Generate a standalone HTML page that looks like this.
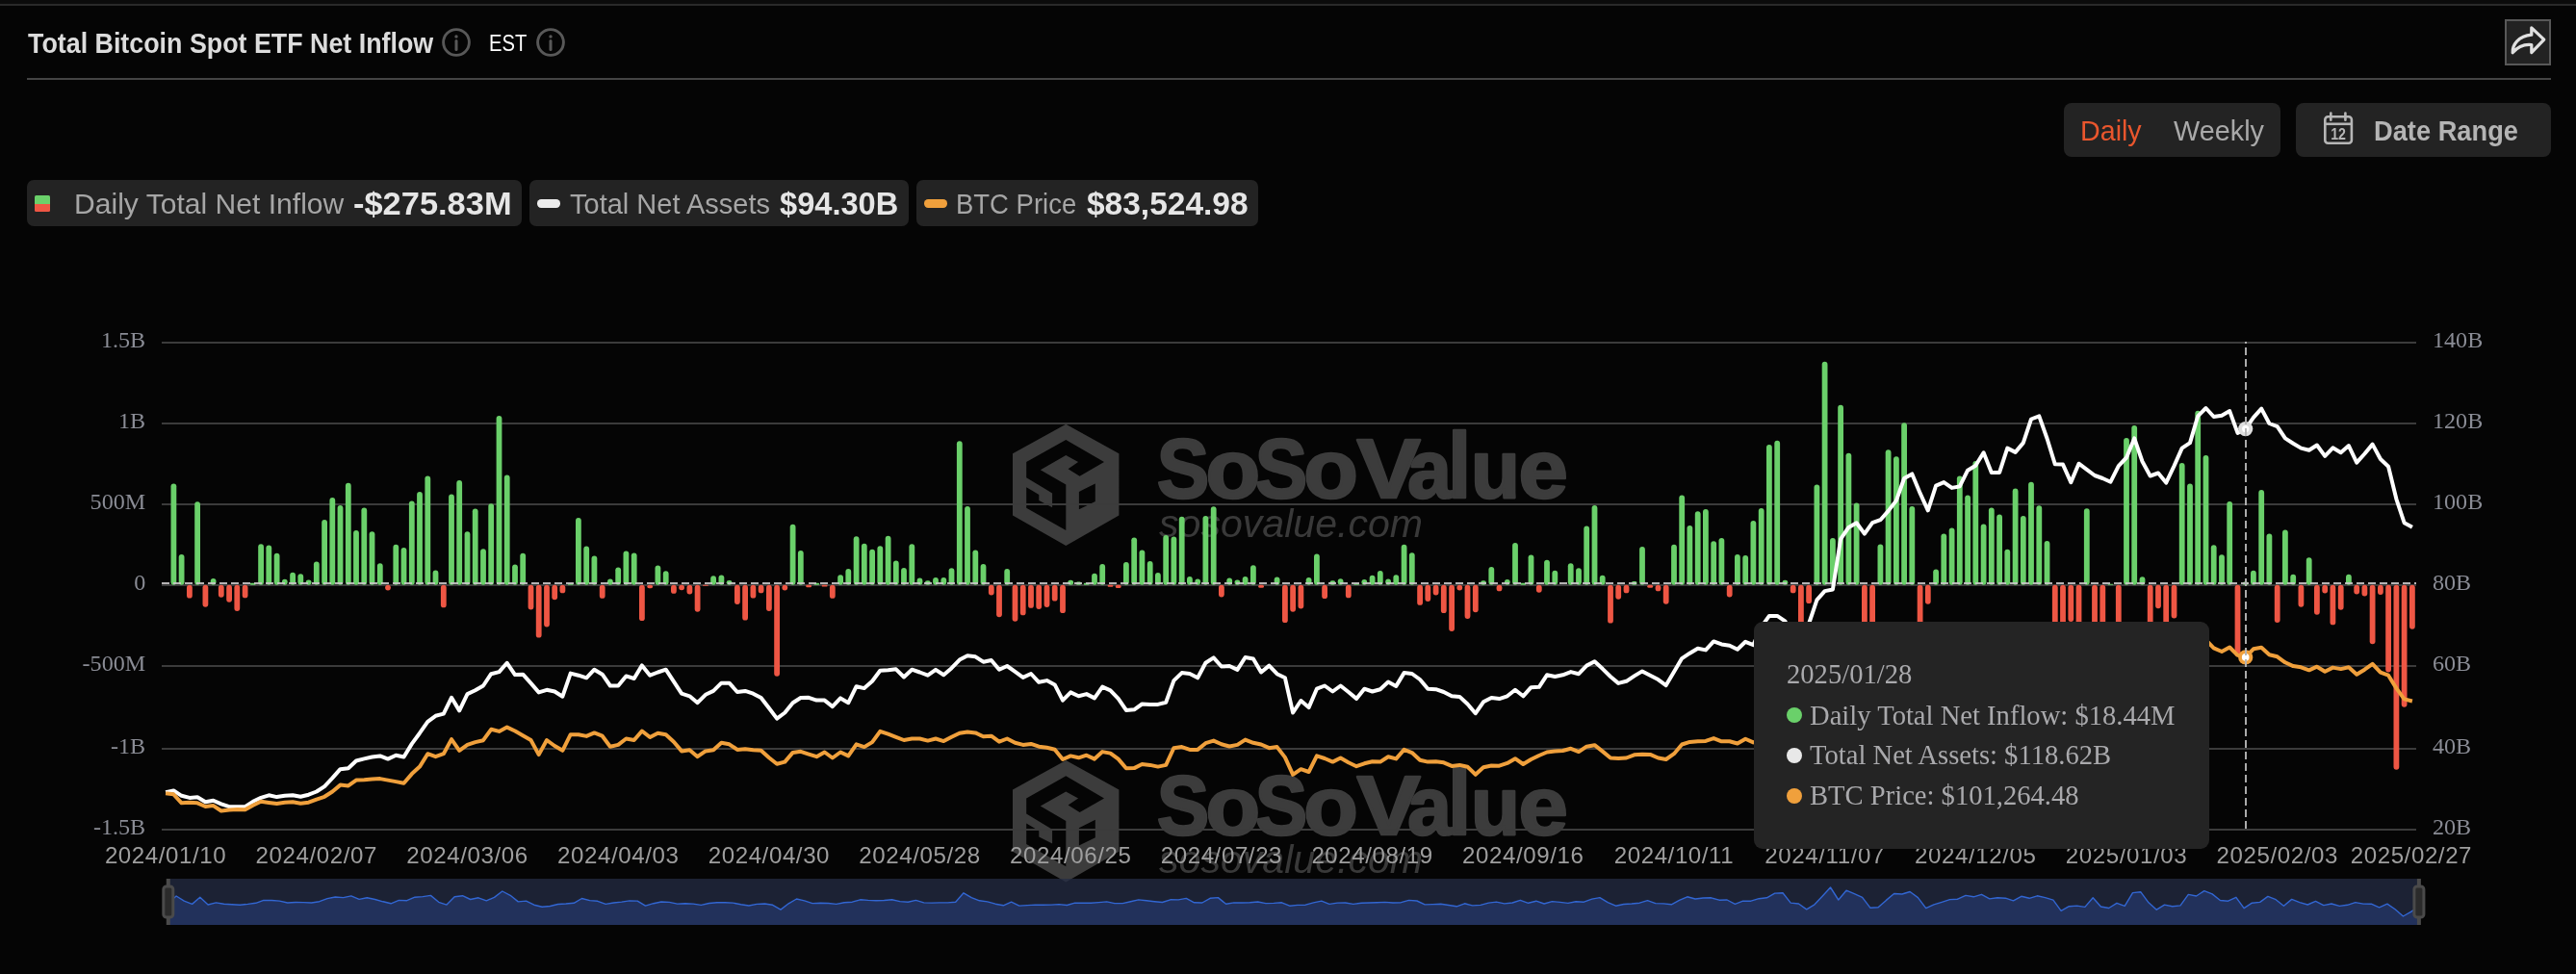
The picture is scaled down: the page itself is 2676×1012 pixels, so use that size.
<!DOCTYPE html><html><head><meta charset="utf-8"><title>Total Bitcoin Spot ETF Net Inflow</title><style>
html,body{margin:0;padding:0;background:#050505;}
body{width:2676px;height:1012px;position:relative;overflow:hidden;font-family:"Liberation Sans",sans-serif;}
.abs{position:absolute;}
.t{position:absolute;white-space:nowrap;display:inline-block;transform-origin:0 0;}
svg.chart{position:absolute;left:0;top:0;}
.ys{font:24.1px "Liberation Serif",serif;fill:#8a8c95;}
.xs{font:24.1px "Liberation Sans",sans-serif;fill:#9e9e9e;letter-spacing:0.58px;}
.wm1{font:bold 86px "Liberation Sans",sans-serif;fill:#3c3c3c;stroke:#3c3c3c;stroke-width:2.6px;stroke-linejoin:round;}
.wm2{font:italic 41px "Liberation Sans",sans-serif;fill:#393939;}
.chip{position:absolute;top:187px;height:48px;background:#232323;border-radius:7px;}
.btn{position:absolute;top:107px;height:56px;background:#232323;border-radius:8px;}
.tt{position:absolute;left:1822px;top:646px;width:473px;height:236px;background:#242424;border-radius:9px;}
.tt span{position:absolute;white-space:nowrap;font:28.6px/1 "Liberation Serif",serif;color:#a9a9ac;}
.tt i{position:absolute;width:16px;height:16px;border-radius:50%;left:34px;}
</style></head><body><div id="root" style="position:absolute;left:0;top:0;width:2676px;height:1012px;will-change:transform">
<div class="abs" style="left:0;top:0;width:2676px;height:4px;background:#0b0b0b"></div>
<div class="abs" style="left:0;top:4px;width:2676px;height:2px;background:#2a2a2a"></div>
<div class="abs" style="left:28px;top:81px;width:2622px;height:2px;background:#444"></div>
<svg class="abs" style="left:458.9px;top:29px" width="30" height="30" viewBox="0 0 30 30"><circle cx="15" cy="15" r="13.4" fill="none" stroke="#585858" stroke-width="2.9"/><line x1="15" y1="13.6" x2="15" y2="22.6" stroke="#585858" stroke-width="3" stroke-linecap="round"/><circle cx="15" cy="9" r="1.7" fill="#585858"/></svg>
<svg class="abs" style="left:557.2px;top:29px" width="30" height="30" viewBox="0 0 30 30"><circle cx="15" cy="15" r="13.4" fill="none" stroke="#585858" stroke-width="2.9"/><line x1="15" y1="13.6" x2="15" y2="22.6" stroke="#585858" stroke-width="3" stroke-linecap="round"/><circle cx="15" cy="9" r="1.7" fill="#585858"/></svg>
<div class="abs" style="left:2602px;top:20px;width:44px;height:44px;background:#222;border:2px solid #585858"></div>
<svg class="abs" style="left:2602px;top:20px" width="48" height="48" viewBox="0 0 48 48"><path d="M27.8 8.8 L40.8 21.2 L27.8 34.6 L27.8 26.6 C20.5 25.8 14.4 27.6 8.2 34.8 C7.6 27 14.2 17.2 27.8 16.2 Z" fill="none" stroke="#e0e0e0" stroke-width="3.2" stroke-linejoin="round"/></svg>
<div class="btn" style="left:2144px;width:225px"></div>
<div class="btn" style="left:2385px;width:265px"></div>
<svg class="abs" style="left:2412px;top:116px" width="36" height="38" viewBox="0 0 36 38"><rect x="3.3" y="5.2" width="27.6" height="27.6" rx="3" fill="none" stroke="#b6b6b6" stroke-width="2.6"/><line x1="3.3" y1="12.8" x2="30.9" y2="12.8" stroke="#b6b6b6" stroke-width="2.6"/><line x1="9.3" y1="1.6" x2="9.3" y2="8.8" stroke="#b6b6b6" stroke-width="2.6" stroke-linecap="round"/><line x1="24.4" y1="1.6" x2="24.4" y2="8.8" stroke="#b6b6b6" stroke-width="2.6" stroke-linecap="round"/><text x="9.2" y="29" style="font:bold 17.4px 'Liberation Sans',sans-serif;fill:#b6b6b6" textLength="15.8" lengthAdjust="spacingAndGlyphs">12</text></svg>
<div class="chip" style="left:28px;width:514px"></div>
<div class="chip" style="left:550px;width:394px"></div>
<div class="chip" style="left:952px;width:355px"></div>
<div class="abs" style="left:36px;top:203px;width:16px;height:8.5px;background:#6ad06a;border-radius:1.5px 1.5px 0 0"></div>
<div class="abs" style="left:36px;top:211.5px;width:16px;height:8px;background:#ee5644;border-radius:0 0 1.5px 1.5px"></div>
<div class="abs" style="left:558px;top:207.3px;width:24px;height:8.4px;background:#ececec;border-radius:4.2px"></div>
<div class="abs" style="left:960px;top:207.3px;width:24px;height:8.4px;background:#f0a03c;border-radius:4.2px"></div>
<svg class="chart" width="2676" height="1012" viewBox="0 0 2676 1012"><path d="M1107.3 440.8 L1162.4 471.3 L1162.4 535.5 L1107.3 567.1 L1052.0 535.5 L1052.0 471.3 Z M1147.0 480.1 L1107.3 457.0 L1066.2 480.1 L1066.2 496.2 L1093.1 512.4 L1093.1 527.3 L1079.3 520.1 L1079.3 513.9 L1066.2 506.2 L1066.2 527.8 L1107.3 550.9 L1107.3 503.6 L1080.8 488.2 L1107.3 473.1 L1120.1 480.1 L1109.6 487.3 L1121.6 494.7 Z M1120.9 510.9 L1137.8 502.4 L1137.8 520.9 L1120.9 529.3 Z" fill="#3c3c3c" fill-rule="evenodd"/><text x="1201.8" y="517.2" class="wm1" style="font-size:87px" textLength="54.5" lengthAdjust="spacingAndGlyphs">S</text><text x="1252.5" y="517.2" class="wm1" style="font-size:85px" textLength="56.6" lengthAdjust="spacingAndGlyphs">o</text><text x="1303.7" y="517.2" class="wm1" style="font-size:87px" textLength="54.5" lengthAdjust="spacingAndGlyphs">S</text><text x="1354.3" y="517.2" class="wm1" style="font-size:85px" textLength="56.6" lengthAdjust="spacingAndGlyphs">o</text><text x="1409.6" y="517.2" class="wm1" style="font-size:87px" textLength="66.2" lengthAdjust="spacingAndGlyphs">V</text><text x="1462.3" y="517.2" class="wm1" style="font-size:85px" textLength="45.6" lengthAdjust="spacingAndGlyphs">a</text><text x="1503.9" y="517.2" class="wm1" style="font-size:97px" textLength="24.3" lengthAdjust="spacingAndGlyphs">l</text><text x="1528.0" y="517.2" class="wm1" style="font-size:85px" textLength="50.9" lengthAdjust="spacingAndGlyphs">u</text><text x="1577.6" y="517.2" class="wm1" style="font-size:85px" textLength="51.3" lengthAdjust="spacingAndGlyphs">e</text><text x="1204" y="558.0" class="wm2" textLength="274" lengthAdjust="spacingAndGlyphs">sosovalue.com</text><path d="M1107.3 790.1 L1162.4 820.6 L1162.4 884.8 L1107.3 916.4 L1052.0 884.8 L1052.0 820.6 Z M1147.0 829.4 L1107.3 806.3 L1066.2 829.4 L1066.2 845.5 L1093.1 861.7 L1093.1 876.6 L1079.3 869.4 L1079.3 863.2 L1066.2 855.5 L1066.2 877.1 L1107.3 900.2 L1107.3 852.9 L1080.8 837.5 L1107.3 822.4 L1120.1 829.4 L1109.6 836.6 L1121.6 844.0 Z M1120.9 860.2 L1137.8 851.7 L1137.8 870.2 L1120.9 878.6 Z" fill="#3c3c3c" fill-rule="evenodd"/><text x="1201.8" y="866.5" class="wm1" style="font-size:87px" textLength="54.5" lengthAdjust="spacingAndGlyphs">S</text><text x="1252.5" y="866.5" class="wm1" style="font-size:85px" textLength="56.6" lengthAdjust="spacingAndGlyphs">o</text><text x="1303.7" y="866.5" class="wm1" style="font-size:87px" textLength="54.5" lengthAdjust="spacingAndGlyphs">S</text><text x="1354.3" y="866.5" class="wm1" style="font-size:85px" textLength="56.6" lengthAdjust="spacingAndGlyphs">o</text><text x="1409.6" y="866.5" class="wm1" style="font-size:87px" textLength="66.2" lengthAdjust="spacingAndGlyphs">V</text><text x="1462.3" y="866.5" class="wm1" style="font-size:85px" textLength="45.6" lengthAdjust="spacingAndGlyphs">a</text><text x="1503.9" y="866.5" class="wm1" style="font-size:97px" textLength="24.3" lengthAdjust="spacingAndGlyphs">l</text><text x="1528.0" y="866.5" class="wm1" style="font-size:85px" textLength="50.9" lengthAdjust="spacingAndGlyphs">u</text><text x="1577.6" y="866.5" class="wm1" style="font-size:85px" textLength="51.3" lengthAdjust="spacingAndGlyphs">e</text><text x="1204" y="907.3" class="wm2" textLength="274" lengthAdjust="spacingAndGlyphs">sosovalue.com</text></svg>
<svg class="chart" width="2676" height="1012" viewBox="0 0 2676 1012">
<rect x="168" y="355" width="2342" height="2" fill="#3b3b3b"/>
<rect x="168" y="439" width="2342" height="2" fill="#3b3b3b"/>
<rect x="168" y="523" width="2342" height="2" fill="#3b3b3b"/>
<rect x="168" y="607" width="2342" height="2" fill="#3b3b3b"/>
<rect x="168" y="691" width="2342" height="2" fill="#3b3b3b"/>
<rect x="168" y="777" width="2342" height="2" fill="#3b3b3b"/>
<rect x="168" y="861" width="2342" height="2" fill="#3b3b3b"/>
<g fill="#6ad06a"><rect x="177.5" y="502.4" width="5.8" height="105.3" rx="2.9"/><rect x="185.7" y="576.1" width="5.8" height="31.6" rx="2.9"/><rect x="202.2" y="521.2" width="5.8" height="86.5" rx="2.9"/><rect x="218.7" y="601.0" width="5.8" height="6.7" rx="2.9"/><rect x="259.9" y="605.7" width="5.8" height="2.0" rx="1.0"/><rect x="268.2" y="565.3" width="5.8" height="42.4" rx="2.9"/><rect x="276.4" y="566.4" width="5.8" height="41.3" rx="2.9"/><rect x="284.7" y="574.7" width="5.8" height="33.0" rx="2.9"/><rect x="292.9" y="601.7" width="5.8" height="6.0" rx="2.9"/><rect x="301.2" y="594.7" width="5.8" height="13.0" rx="2.9"/><rect x="309.4" y="596.3" width="5.8" height="11.4" rx="2.9"/><rect x="317.7" y="602.4" width="5.8" height="5.3" rx="2.6"/><rect x="325.9" y="583.6" width="5.8" height="24.1" rx="2.9"/><rect x="334.2" y="540.1" width="5.8" height="67.6" rx="2.9"/><rect x="342.4" y="517.1" width="5.8" height="90.6" rx="2.9"/><rect x="350.6" y="525.1" width="5.8" height="82.6" rx="2.9"/><rect x="358.9" y="501.8" width="5.8" height="105.9" rx="2.9"/><rect x="367.1" y="550.9" width="5.8" height="56.8" rx="2.9"/><rect x="375.4" y="527.6" width="5.8" height="80.1" rx="2.9"/><rect x="383.6" y="552.3" width="5.8" height="55.4" rx="2.9"/><rect x="391.9" y="585.2" width="5.8" height="22.5" rx="2.9"/><rect x="408.4" y="565.8" width="5.8" height="41.9" rx="2.9"/><rect x="416.6" y="568.9" width="5.8" height="38.8" rx="2.9"/><rect x="424.9" y="520.4" width="5.8" height="87.3" rx="2.9"/><rect x="433.1" y="511.0" width="5.8" height="96.7" rx="2.9"/><rect x="441.4" y="494.6" width="5.8" height="113.1" rx="2.9"/><rect x="449.6" y="592.5" width="5.8" height="15.2" rx="2.9"/><rect x="466.1" y="513.5" width="5.8" height="94.2" rx="2.9"/><rect x="474.3" y="499.1" width="5.8" height="108.6" rx="2.9"/><rect x="482.6" y="552.3" width="5.8" height="55.4" rx="2.9"/><rect x="490.8" y="528.4" width="5.8" height="79.3" rx="2.9"/><rect x="499.1" y="570.3" width="5.8" height="37.4" rx="2.9"/><rect x="507.3" y="523.2" width="5.8" height="84.5" rx="2.9"/><rect x="515.6" y="432.0" width="5.8" height="175.7" rx="2.9"/><rect x="523.8" y="493.5" width="5.8" height="114.2" rx="2.9"/><rect x="532.1" y="586.4" width="5.8" height="21.3" rx="2.9"/><rect x="540.3" y="574.7" width="5.8" height="33.0" rx="2.9"/><rect x="589.8" y="606.2" width="5.8" height="1.5" rx="0.8"/><rect x="598.0" y="537.9" width="5.8" height="69.8" rx="2.9"/><rect x="606.3" y="567.5" width="5.8" height="40.2" rx="2.9"/><rect x="614.5" y="577.5" width="5.8" height="30.2" rx="2.9"/><rect x="631.0" y="601.6" width="5.8" height="6.1" rx="2.9"/><rect x="639.3" y="589.4" width="5.8" height="18.3" rx="2.9"/><rect x="647.5" y="572.5" width="5.8" height="35.2" rx="2.9"/><rect x="655.8" y="574.4" width="5.8" height="33.3" rx="2.9"/><rect x="680.5" y="587.5" width="5.8" height="20.2" rx="2.9"/><rect x="688.8" y="593.3" width="5.8" height="14.4" rx="2.9"/><rect x="738.2" y="598.3" width="5.8" height="9.4" rx="2.9"/><rect x="746.5" y="597.4" width="5.8" height="10.3" rx="2.9"/><rect x="754.7" y="603.0" width="5.8" height="4.7" rx="2.4"/><rect x="820.7" y="544.8" width="5.8" height="62.9" rx="2.9"/><rect x="828.9" y="571.9" width="5.8" height="35.8" rx="2.9"/><rect x="845.4" y="605.7" width="5.8" height="2.0" rx="1.0"/><rect x="870.2" y="597.2" width="5.8" height="10.5" rx="2.9"/><rect x="878.4" y="591.1" width="5.8" height="16.6" rx="2.9"/><rect x="886.7" y="557.3" width="5.8" height="50.4" rx="2.9"/><rect x="894.9" y="564.7" width="5.8" height="43.0" rx="2.9"/><rect x="903.2" y="570.8" width="5.8" height="36.9" rx="2.9"/><rect x="911.4" y="567.2" width="5.8" height="40.5" rx="2.9"/><rect x="919.7" y="556.7" width="5.8" height="51.0" rx="2.9"/><rect x="927.9" y="582.5" width="5.8" height="25.2" rx="2.9"/><rect x="936.1" y="590.0" width="5.8" height="17.7" rx="2.9"/><rect x="944.4" y="565.3" width="5.8" height="42.4" rx="2.9"/><rect x="952.6" y="600.5" width="5.8" height="7.2" rx="2.9"/><rect x="960.9" y="603.3" width="5.8" height="4.4" rx="2.2"/><rect x="969.1" y="599.9" width="5.8" height="7.8" rx="2.9"/><rect x="977.4" y="599.9" width="5.8" height="7.8" rx="2.9"/><rect x="985.6" y="590.2" width="5.8" height="17.5" rx="2.9"/><rect x="993.9" y="458.3" width="5.8" height="149.4" rx="2.9"/><rect x="1002.1" y="525.9" width="5.8" height="81.8" rx="2.9"/><rect x="1010.4" y="571.4" width="5.8" height="36.3" rx="2.9"/><rect x="1018.6" y="586.1" width="5.8" height="21.6" rx="2.9"/><rect x="1043.3" y="591.1" width="5.8" height="16.6" rx="2.9"/><rect x="1109.3" y="602.7" width="5.8" height="5.0" rx="2.5"/><rect x="1117.6" y="604.4" width="5.8" height="3.3" rx="1.6"/><rect x="1125.8" y="605.7" width="5.8" height="2.0" rx="1.0"/><rect x="1134.1" y="595.8" width="5.8" height="11.9" rx="2.9"/><rect x="1142.3" y="586.1" width="5.8" height="21.6" rx="2.9"/><rect x="1167.0" y="583.9" width="5.8" height="23.8" rx="2.9"/><rect x="1175.3" y="558.4" width="5.8" height="49.3" rx="2.9"/><rect x="1183.5" y="571.4" width="5.8" height="36.3" rx="2.9"/><rect x="1191.8" y="583.1" width="5.8" height="24.6" rx="2.9"/><rect x="1200.0" y="595.0" width="5.8" height="12.7" rx="2.9"/><rect x="1208.3" y="556.1" width="5.8" height="51.6" rx="2.9"/><rect x="1216.5" y="557.5" width="5.8" height="50.2" rx="2.9"/><rect x="1224.8" y="536.7" width="5.8" height="71.0" rx="2.9"/><rect x="1233.0" y="599.1" width="5.8" height="8.6" rx="2.9"/><rect x="1241.3" y="601.6" width="5.8" height="6.1" rx="2.9"/><rect x="1249.5" y="535.9" width="5.8" height="71.8" rx="2.9"/><rect x="1257.8" y="526.2" width="5.8" height="81.5" rx="2.9"/><rect x="1274.3" y="600.5" width="5.8" height="7.2" rx="2.9"/><rect x="1282.5" y="602.4" width="5.8" height="5.3" rx="2.6"/><rect x="1290.7" y="599.1" width="5.8" height="8.6" rx="2.9"/><rect x="1299.0" y="587.2" width="5.8" height="20.5" rx="2.9"/><rect x="1323.7" y="599.4" width="5.8" height="8.3" rx="2.9"/><rect x="1356.7" y="599.9" width="5.8" height="7.8" rx="2.9"/><rect x="1365.0" y="575.5" width="5.8" height="32.2" rx="2.9"/><rect x="1381.5" y="603.3" width="5.8" height="4.4" rx="2.2"/><rect x="1389.7" y="601.3" width="5.8" height="6.4" rx="2.9"/><rect x="1406.2" y="606.2" width="5.8" height="1.5" rx="0.8"/><rect x="1414.4" y="601.9" width="5.8" height="5.8" rx="2.9"/><rect x="1422.7" y="597.7" width="5.8" height="10.0" rx="2.9"/><rect x="1430.9" y="593.0" width="5.8" height="14.7" rx="2.9"/><rect x="1439.2" y="601.6" width="5.8" height="6.1" rx="2.9"/><rect x="1447.4" y="597.2" width="5.8" height="10.5" rx="2.9"/><rect x="1455.7" y="565.8" width="5.8" height="41.9" rx="2.9"/><rect x="1463.9" y="574.2" width="5.8" height="33.5" rx="2.9"/><rect x="1538.1" y="603.3" width="5.8" height="4.4" rx="2.2"/><rect x="1546.4" y="588.9" width="5.8" height="18.8" rx="2.9"/><rect x="1562.9" y="601.9" width="5.8" height="5.8" rx="2.9"/><rect x="1571.1" y="563.9" width="5.8" height="43.8" rx="2.9"/><rect x="1579.4" y="605.7" width="5.8" height="2.0" rx="1.0"/><rect x="1587.6" y="576.4" width="5.8" height="31.3" rx="2.9"/><rect x="1604.1" y="581.7" width="5.8" height="26.0" rx="2.9"/><rect x="1612.4" y="592.7" width="5.8" height="15.0" rx="2.9"/><rect x="1628.8" y="585.3" width="5.8" height="22.4" rx="2.9"/><rect x="1637.1" y="590.2" width="5.8" height="17.5" rx="2.9"/><rect x="1645.3" y="546.5" width="5.8" height="61.2" rx="2.9"/><rect x="1653.6" y="525.1" width="5.8" height="82.6" rx="2.9"/><rect x="1661.8" y="597.7" width="5.8" height="10.0" rx="2.9"/><rect x="1694.8" y="604.1" width="5.8" height="3.6" rx="1.8"/><rect x="1703.1" y="568.1" width="5.8" height="39.6" rx="2.9"/><rect x="1736.1" y="565.8" width="5.8" height="41.9" rx="2.9"/><rect x="1744.3" y="514.6" width="5.8" height="93.1" rx="2.9"/><rect x="1752.5" y="545.9" width="5.8" height="61.8" rx="2.9"/><rect x="1760.8" y="531.2" width="5.8" height="76.5" rx="2.9"/><rect x="1769.0" y="529.0" width="5.8" height="78.7" rx="2.9"/><rect x="1777.3" y="562.2" width="5.8" height="45.5" rx="2.9"/><rect x="1785.5" y="558.9" width="5.8" height="48.8" rx="2.9"/><rect x="1802.0" y="576.1" width="5.8" height="31.6" rx="2.9"/><rect x="1810.3" y="576.9" width="5.8" height="30.8" rx="2.9"/><rect x="1818.5" y="540.9" width="5.8" height="66.8" rx="2.9"/><rect x="1826.8" y="527.9" width="5.8" height="79.8" rx="2.9"/><rect x="1835.0" y="461.9" width="5.8" height="145.8" rx="2.9"/><rect x="1843.3" y="457.8" width="5.8" height="149.9" rx="2.9"/><rect x="1851.5" y="602.7" width="5.8" height="5.0" rx="2.5"/><rect x="1884.5" y="503.6" width="5.8" height="104.1" rx="2.9"/><rect x="1892.7" y="375.8" width="5.8" height="231.9" rx="2.9"/><rect x="1901.0" y="559.0" width="5.8" height="48.7" rx="2.9"/><rect x="1909.2" y="420.8" width="5.8" height="186.9" rx="2.9"/><rect x="1917.5" y="470.7" width="5.8" height="137.0" rx="2.9"/><rect x="1925.7" y="522.4" width="5.8" height="85.3" rx="2.9"/><rect x="1950.5" y="565.5" width="5.8" height="42.2" rx="2.9"/><rect x="1958.7" y="467.3" width="5.8" height="140.4" rx="2.9"/><rect x="1967.0" y="474.3" width="5.8" height="133.4" rx="2.9"/><rect x="1975.2" y="439.2" width="5.8" height="168.5" rx="2.9"/><rect x="1983.4" y="526.1" width="5.8" height="81.6" rx="2.9"/><rect x="2008.2" y="591.4" width="5.8" height="16.3" rx="2.9"/><rect x="2016.4" y="554.4" width="5.8" height="53.3" rx="2.9"/><rect x="2024.7" y="548.6" width="5.8" height="59.1" rx="2.9"/><rect x="2032.9" y="494.4" width="5.8" height="113.3" rx="2.9"/><rect x="2041.2" y="514.4" width="5.8" height="93.3" rx="2.9"/><rect x="2049.4" y="479.0" width="5.8" height="128.7" rx="2.9"/><rect x="2057.7" y="544.6" width="5.8" height="63.1" rx="2.9"/><rect x="2065.9" y="527.6" width="5.8" height="80.1" rx="2.9"/><rect x="2074.2" y="534.4" width="5.8" height="73.3" rx="2.9"/><rect x="2082.4" y="570.7" width="5.8" height="37.0" rx="2.9"/><rect x="2090.7" y="507.6" width="5.8" height="100.1" rx="2.9"/><rect x="2098.9" y="535.9" width="5.8" height="71.8" rx="2.9"/><rect x="2107.1" y="500.8" width="5.8" height="106.9" rx="2.9"/><rect x="2115.4" y="525.2" width="5.8" height="82.5" rx="2.9"/><rect x="2123.6" y="562.1" width="5.8" height="45.6" rx="2.9"/><rect x="2164.9" y="528.2" width="5.8" height="79.5" rx="2.9"/><rect x="2189.6" y="606.8" width="5.8" height="0.9" rx="0.5"/><rect x="2206.1" y="455.1" width="5.8" height="152.6" rx="2.9"/><rect x="2214.3" y="441.9" width="5.8" height="165.8" rx="2.9"/><rect x="2222.6" y="599.3" width="5.8" height="8.4" rx="2.9"/><rect x="2263.8" y="481.0" width="5.8" height="126.7" rx="2.9"/><rect x="2272.1" y="502.6" width="5.8" height="105.1" rx="2.9"/><rect x="2280.3" y="426.8" width="5.8" height="180.9" rx="2.9"/><rect x="2288.6" y="473.0" width="5.8" height="134.7" rx="2.9"/><rect x="2296.8" y="566.3" width="5.8" height="41.4" rx="2.9"/><rect x="2305.1" y="576.2" width="5.8" height="31.5" rx="2.9"/><rect x="2313.3" y="521.0" width="5.8" height="86.7" rx="2.9"/><rect x="2329.8" y="604.6" width="5.8" height="3.1" rx="1.6"/><rect x="2338.0" y="592.8" width="5.8" height="14.9" rx="2.9"/><rect x="2346.3" y="509.0" width="5.8" height="98.7" rx="2.9"/><rect x="2354.5" y="554.6" width="5.8" height="53.1" rx="2.9"/><rect x="2371.0" y="550.6" width="5.8" height="57.1" rx="2.9"/><rect x="2379.3" y="596.8" width="5.8" height="10.9" rx="2.9"/><rect x="2395.8" y="579.2" width="5.8" height="28.5" rx="2.9"/><rect x="2437.0" y="596.8" width="5.8" height="10.9" rx="2.9"/></g>
<g fill="#ee5644"><rect x="194.0" y="607.7" width="5.8" height="13.9" rx="2.9"/><rect x="210.5" y="607.7" width="5.8" height="23.0" rx="2.9"/><rect x="226.9" y="607.7" width="5.8" height="13.0" rx="2.9"/><rect x="235.2" y="607.7" width="5.8" height="18.0" rx="2.9"/><rect x="243.4" y="607.7" width="5.8" height="27.2" rx="2.9"/><rect x="251.7" y="607.7" width="5.8" height="13.6" rx="2.9"/><rect x="400.1" y="607.7" width="5.8" height="5.8" rx="2.9"/><rect x="457.9" y="607.7" width="5.8" height="23.6" rx="2.9"/><rect x="548.6" y="607.7" width="5.8" height="25.8" rx="2.9"/><rect x="556.8" y="607.7" width="5.8" height="54.9" rx="2.9"/><rect x="565.1" y="607.7" width="5.8" height="43.8" rx="2.9"/><rect x="573.3" y="607.7" width="5.8" height="15.5" rx="2.9"/><rect x="581.5" y="607.7" width="5.8" height="8.6" rx="2.9"/><rect x="622.8" y="607.7" width="5.8" height="14.1" rx="2.9"/><rect x="664.0" y="607.7" width="5.8" height="37.4" rx="2.9"/><rect x="672.3" y="607.7" width="5.8" height="3.6" rx="1.8"/><rect x="697.0" y="607.7" width="5.8" height="9.1" rx="2.9"/><rect x="705.2" y="607.7" width="5.8" height="5.5" rx="2.8"/><rect x="713.5" y="607.7" width="5.8" height="9.7" rx="2.9"/><rect x="721.7" y="607.7" width="5.8" height="28.0" rx="2.9"/><rect x="730.0" y="607.7" width="5.8" height="1.0" rx="0.5"/><rect x="763.0" y="607.7" width="5.8" height="20.2" rx="2.9"/><rect x="771.2" y="607.7" width="5.8" height="36.9" rx="2.9"/><rect x="779.5" y="607.7" width="5.8" height="13.9" rx="2.9"/><rect x="787.7" y="607.7" width="5.8" height="8.6" rx="2.9"/><rect x="796.0" y="607.7" width="5.8" height="27.2" rx="2.9"/><rect x="804.2" y="607.7" width="5.8" height="95.0" rx="2.9"/><rect x="812.4" y="607.7" width="5.8" height="5.8" rx="2.9"/><rect x="837.2" y="607.7" width="5.8" height="2.6" rx="1.3"/><rect x="853.7" y="607.7" width="5.8" height="1.9" rx="0.9"/><rect x="861.9" y="607.7" width="5.8" height="14.1" rx="2.9"/><rect x="1026.9" y="607.7" width="5.8" height="10.8" rx="2.9"/><rect x="1035.1" y="607.7" width="5.8" height="33.5" rx="2.9"/><rect x="1051.6" y="607.7" width="5.8" height="38.0" rx="2.9"/><rect x="1059.8" y="607.7" width="5.8" height="31.6" rx="2.9"/><rect x="1068.1" y="607.7" width="5.8" height="24.1" rx="2.9"/><rect x="1076.3" y="607.7" width="5.8" height="25.2" rx="2.9"/><rect x="1084.6" y="607.7" width="5.8" height="23.3" rx="2.9"/><rect x="1092.8" y="607.7" width="5.8" height="16.9" rx="2.9"/><rect x="1101.1" y="607.7" width="5.8" height="29.4" rx="2.9"/><rect x="1150.6" y="607.7" width="5.8" height="2.0" rx="1.0"/><rect x="1158.8" y="607.7" width="5.8" height="3.3" rx="1.6"/><rect x="1266.0" y="607.7" width="5.8" height="12.7" rx="2.9"/><rect x="1307.2" y="607.7" width="5.8" height="3.0" rx="1.5"/><rect x="1332.0" y="607.7" width="5.8" height="39.4" rx="2.9"/><rect x="1340.2" y="607.7" width="5.8" height="28.0" rx="2.9"/><rect x="1348.5" y="607.7" width="5.8" height="24.7" rx="2.9"/><rect x="1373.2" y="607.7" width="5.8" height="14.4" rx="2.9"/><rect x="1397.9" y="607.7" width="5.8" height="13.6" rx="2.9"/><rect x="1472.2" y="607.7" width="5.8" height="21.1" rx="2.9"/><rect x="1480.4" y="607.7" width="5.8" height="17.2" rx="2.9"/><rect x="1488.7" y="607.7" width="5.8" height="10.8" rx="2.9"/><rect x="1496.9" y="607.7" width="5.8" height="29.4" rx="2.9"/><rect x="1505.2" y="607.7" width="5.8" height="48.2" rx="2.9"/><rect x="1513.4" y="607.7" width="5.8" height="5.8" rx="2.9"/><rect x="1521.6" y="607.7" width="5.8" height="35.2" rx="2.9"/><rect x="1529.9" y="607.7" width="5.8" height="28.5" rx="2.9"/><rect x="1554.6" y="607.7" width="5.8" height="6.6" rx="2.9"/><rect x="1595.9" y="607.7" width="5.8" height="8.0" rx="2.9"/><rect x="1670.1" y="607.7" width="5.8" height="39.9" rx="2.9"/><rect x="1678.3" y="607.7" width="5.8" height="15.0" rx="2.9"/><rect x="1686.6" y="607.7" width="5.8" height="8.6" rx="2.9"/><rect x="1711.3" y="607.7" width="5.8" height="3.0" rx="1.5"/><rect x="1719.6" y="607.7" width="5.8" height="6.6" rx="2.9"/><rect x="1727.8" y="607.7" width="5.8" height="20.0" rx="2.9"/><rect x="1793.8" y="607.7" width="5.8" height="12.7" rx="2.9"/><rect x="1859.8" y="607.7" width="5.8" height="8.6" rx="2.9"/><rect x="1868.0" y="607.7" width="5.8" height="91.2" rx="2.9"/><rect x="1876.2" y="607.7" width="5.8" height="19.4" rx="2.9"/><rect x="1934.0" y="607.7" width="5.8" height="67.6" rx="2.9"/><rect x="1942.2" y="607.7" width="5.8" height="62.4" rx="2.9"/><rect x="1991.7" y="607.7" width="5.8" height="73.9" rx="2.9"/><rect x="1999.9" y="607.7" width="5.8" height="20.0" rx="2.9"/><rect x="2131.9" y="607.7" width="5.8" height="113.3" rx="2.9"/><rect x="2140.1" y="607.7" width="5.8" height="46.7" rx="2.9"/><rect x="2148.4" y="607.7" width="5.8" height="38.2" rx="2.9"/><rect x="2156.6" y="607.7" width="5.8" height="57.0" rx="2.9"/><rect x="2173.1" y="607.7" width="5.8" height="50.2" rx="2.9"/><rect x="2181.4" y="607.7" width="5.8" height="71.8" rx="2.9"/><rect x="2197.9" y="607.7" width="5.8" height="40.9" rx="2.9"/><rect x="2230.8" y="607.7" width="5.8" height="95.9" rx="2.9"/><rect x="2239.1" y="607.7" width="5.8" height="24.5" rx="2.9"/><rect x="2247.3" y="607.7" width="5.8" height="47.9" rx="2.9"/><rect x="2255.6" y="607.7" width="5.8" height="34.7" rx="2.9"/><rect x="2321.6" y="607.7" width="5.8" height="74.4" rx="2.9"/><rect x="2362.8" y="607.7" width="5.8" height="39.2" rx="2.9"/><rect x="2387.5" y="607.7" width="5.8" height="23.0" rx="2.9"/><rect x="2404.0" y="607.7" width="5.8" height="31.0" rx="2.9"/><rect x="2412.3" y="607.7" width="5.8" height="8.8" rx="2.9"/><rect x="2420.5" y="607.7" width="5.8" height="41.6" rx="2.9"/><rect x="2428.8" y="607.7" width="5.8" height="26.0" rx="2.9"/><rect x="2445.3" y="607.7" width="5.8" height="9.7" rx="2.9"/><rect x="2453.5" y="607.7" width="5.8" height="11.8" rx="2.9"/><rect x="2461.7" y="607.7" width="5.8" height="61.5" rx="2.9"/><rect x="2470.0" y="607.7" width="5.8" height="10.3" rx="2.9"/><rect x="2478.2" y="607.7" width="5.8" height="90.7" rx="2.9"/><rect x="2486.5" y="607.7" width="5.8" height="192.0" rx="2.9"/><rect x="2494.7" y="607.7" width="5.8" height="127.0" rx="2.9"/><rect x="2503.0" y="607.7" width="5.8" height="46.0" rx="2.9"/></g>
<line x1="168" y1="606" x2="2510" y2="606" stroke="#c9c6c8" stroke-opacity="0.9" stroke-width="2" stroke-dasharray="8 4"/>
<polyline points="172.1,823.1 180.4,821.4 188.6,826.8 196.9,828.9 205.1,828.3 213.4,833.2 221.6,831.7 229.8,835.4 238.1,838.2 246.3,838.2 254.6,838.2 262.8,832.8 271.1,828.9 279.3,826.3 287.6,828.1 295.8,826.8 304.1,826.3 312.3,827.8 320.6,825.7 328.8,822.5 337.1,817.1 345.3,808.4 353.5,799.2 361.8,798.3 370.0,790.5 378.3,788.4 386.5,786.5 394.8,785.4 403.0,788.6 411.3,784.7 419.5,786.5 427.8,772.9 436.0,761.7 444.3,749.8 452.5,743.8 460.8,741.6 469.0,724.8 477.2,738.4 485.5,721.1 493.7,717.3 502.0,712.5 510.2,700.2 518.5,698.1 526.7,688.8 535.0,701.1 543.2,700.7 551.5,709.9 559.7,719.4 568.0,716.8 576.2,718.5 584.4,723.7 592.7,699.6 600.9,701.7 609.2,704.3 617.4,695.7 625.7,700.7 633.9,712.5 642.2,712.5 650.4,702.4 658.7,705.0 666.9,691.4 675.2,701.7 683.4,698.5 691.7,695.7 699.9,708.2 708.1,720.7 716.4,723.3 724.6,730.2 732.9,721.8 741.1,717.9 749.4,709.7 757.6,709.7 765.9,719.0 774.1,717.9 782.4,720.7 790.6,725.0 798.9,735.8 807.1,746.6 815.3,740.5 823.6,730.2 831.8,725.0 840.1,724.8 848.3,727.6 856.6,727.6 864.8,734.1 873.1,725.4 881.3,730.2 889.6,713.2 897.8,715.1 906.1,707.8 914.3,696.8 922.6,696.3 930.8,695.3 939.0,703.5 947.3,695.7 955.5,698.5 963.8,701.7 972.0,695.9 980.3,701.3 988.5,694.2 996.8,685.6 1005.0,681.3 1013.3,682.3 1021.5,687.7 1029.8,686.0 1038.0,695.7 1046.2,692.0 1054.5,697.9 1062.7,703.9 1071.0,700.0 1079.2,708.8 1087.5,707.1 1095.7,711.4 1104.0,727.6 1112.2,719.4 1120.5,723.3 1128.7,721.1 1137.0,725.4 1145.2,713.6 1153.5,717.3 1161.7,725.9 1169.9,737.9 1178.2,737.3 1186.4,731.5 1194.7,731.9 1202.9,731.9 1211.2,729.8 1219.4,707.1 1227.7,699.1 1235.9,700.0 1244.2,704.3 1252.4,688.8 1260.7,683.4 1268.9,692.5 1277.2,692.0 1285.4,695.9 1293.6,683.0 1301.9,684.5 1310.1,698.5 1318.4,691.6 1326.6,700.2 1334.9,704.3 1343.1,740.5 1351.4,728.0 1359.6,735.1 1367.9,715.7 1376.1,712.5 1384.4,718.5 1392.6,712.5 1400.8,719.0 1409.1,725.9 1417.3,715.7 1425.6,718.5 1433.8,716.2 1442.1,708.6 1450.3,712.9 1458.6,699.1 1466.8,700.0 1475.1,706.0 1483.3,715.7 1491.6,716.2 1499.8,719.0 1508.1,723.3 1516.3,723.9 1524.5,731.5 1532.8,741.2 1541.0,729.3 1549.3,725.0 1557.5,726.1 1565.8,723.3 1574.0,716.8 1582.3,723.3 1590.5,714.2 1598.8,713.8 1607.0,701.3 1615.3,703.0 1623.5,701.3 1631.8,698.1 1640.0,700.2 1648.2,691.6 1656.5,687.3 1664.7,694.8 1673.0,703.0 1681.2,709.9 1689.5,707.8 1697.7,702.4 1706.0,697.4 1714.2,701.7 1722.5,706.1 1730.7,712.1 1739.0,698.1 1747.2,684.1 1755.4,678.7 1763.7,673.7 1771.9,675.4 1780.2,666.4 1788.4,669.4 1796.7,670.7 1804.9,674.8 1813.2,666.8 1821.4,670.1 1829.7,651.3 1837.9,639.9 1846.2,639.9 1854.4,645.3 1862.7,664.9 1870.9,660.3 1879.1,648.0 1887.4,623.3 1895.6,614.1 1903.9,612.5 1912.1,560.2 1920.4,547.9 1928.6,543.2 1936.9,554.6 1945.1,543.2 1953.4,540.2 1961.6,530.9 1969.9,520.1 1978.1,497.0 1986.3,492.4 1994.6,512.4 2002.8,530.3 2011.1,504.7 2019.3,501.1 2027.6,506.9 2035.8,505.4 2044.1,488.7 2052.3,483.8 2060.6,470.3 2068.8,490.9 2077.1,490.9 2085.3,465.6 2093.6,469.9 2101.8,460.1 2110.0,435.5 2118.3,432.4 2126.5,455.5 2134.8,482.3 2143.0,482.6 2151.3,501.1 2159.5,481.7 2167.8,487.8 2176.0,494.0 2184.3,497.0 2192.5,500.7 2200.8,484.1 2209.0,475.5 2217.2,455.4 2225.5,479.5 2233.7,494.5 2242.0,491.5 2250.2,501.6 2258.5,484.1 2266.7,465.6 2275.0,460.1 2283.2,432.3 2291.5,424.0 2299.7,433.0 2308.0,431.7 2316.2,427.1 2324.5,449.9 2332.7,445.6 2340.9,433.9 2349.2,424.6 2357.4,440.0 2365.7,443.1 2373.9,455.4 2382.2,460.7 2390.4,465.6 2398.7,467.8 2406.9,462.5 2415.2,473.9 2423.4,465.3 2431.7,470.2 2439.9,463.1 2448.2,480.7 2456.4,471.5 2464.6,461.6 2472.9,477.0 2481.1,484.7 2489.4,518.6 2497.6,543.2 2505.9,547.8" fill="none" stroke="#ffffff" stroke-width="4" stroke-linejoin="round" stroke-linecap="butt"/>
<polyline points="172.1,824.2 180.4,825.3 188.6,834.3 196.9,833.7 205.1,834.3 213.4,838.0 221.6,837.1 229.8,842.5 238.1,841.4 246.3,841.0 254.6,841.2 262.8,836.7 271.1,832.8 279.3,833.9 287.6,835.0 295.8,833.7 304.1,833.2 312.3,834.7 320.6,833.7 328.8,830.6 337.1,827.8 345.3,822.5 353.5,815.6 361.8,816.4 370.0,810.6 378.3,810.2 386.5,809.5 394.8,809.1 403.0,810.6 411.3,812.1 419.5,813.8 427.8,804.1 436.0,796.6 444.3,783.2 452.5,786.2 460.8,783.2 469.0,768.1 477.2,779.8 485.5,773.9 493.7,771.1 502.0,769.2 510.2,757.8 518.5,759.9 526.7,755.6 535.0,759.5 543.2,764.2 551.5,769.0 559.7,784.1 568.0,769.0 576.2,775.0 584.4,779.8 592.7,763.2 600.9,763.2 609.2,764.9 617.4,761.4 625.7,764.7 633.9,775.7 642.2,773.9 650.4,767.5 658.7,769.0 666.9,759.5 675.2,766.0 683.4,761.7 691.7,763.2 699.9,770.7 708.1,780.4 716.4,779.3 724.6,786.2 732.9,780.4 741.1,779.3 749.4,771.8 757.6,773.3 765.9,778.9 774.1,778.3 782.4,779.3 790.6,779.8 798.9,787.3 807.1,793.8 815.3,791.6 823.6,781.9 831.8,780.8 840.1,783.6 848.3,786.2 856.6,781.5 864.8,787.5 873.1,781.5 881.3,785.4 889.6,773.3 897.8,776.1 906.1,771.1 914.3,759.9 922.6,762.7 930.8,765.8 939.0,769.0 947.3,767.5 955.5,767.5 963.8,769.6 972.0,767.5 980.3,770.1 988.5,765.8 996.8,761.7 1005.0,760.4 1013.3,761.4 1021.5,765.3 1029.8,764.7 1038.0,770.7 1046.2,767.5 1054.5,771.8 1062.7,773.9 1071.0,772.9 1079.2,775.7 1087.5,776.8 1095.7,778.7 1104.0,789.0 1112.2,785.4 1120.5,787.3 1128.7,784.7 1137.0,788.6 1145.2,781.1 1153.5,782.6 1161.7,788.6 1169.9,798.3 1178.2,798.1 1186.4,794.0 1194.7,794.9 1202.9,796.6 1211.2,794.9 1219.4,777.2 1227.7,776.1 1235.9,778.9 1244.2,778.9 1252.4,772.2 1260.7,769.6 1268.9,773.3 1277.2,775.5 1285.4,773.9 1293.6,768.6 1301.9,771.8 1310.1,773.5 1318.4,777.2 1326.6,776.1 1334.9,786.9 1343.1,804.8 1351.4,799.2 1359.6,802.0 1367.9,785.4 1376.1,788.0 1384.4,791.6 1392.6,787.5 1400.8,792.3 1409.1,796.2 1417.3,793.3 1425.6,791.2 1433.8,791.6 1442.1,786.2 1450.3,788.4 1458.6,778.9 1466.8,782.1 1475.1,789.7 1483.3,791.6 1491.6,791.2 1499.8,792.3 1508.1,795.9 1516.3,794.9 1524.5,796.8 1532.8,804.8 1541.0,797.2 1549.3,795.5 1557.5,795.7 1565.8,792.9 1574.0,788.2 1582.3,794.0 1590.5,789.0 1598.8,785.0 1607.0,781.5 1615.3,780.4 1623.5,780.0 1631.8,777.8 1640.0,781.1 1648.2,775.7 1656.5,774.2 1664.7,780.6 1673.0,787.5 1681.2,788.0 1689.5,787.5 1697.7,784.3 1706.0,783.7 1714.2,783.9 1722.5,787.5 1730.7,789.0 1739.0,783.2 1747.2,773.5 1755.4,770.9 1763.7,770.3 1771.9,769.9 1780.2,767.1 1788.4,770.3 1796.7,770.3 1804.9,772.5 1813.2,767.7 1821.4,771.4 1829.7,770.0 1837.9,762.0 1846.2,760.0 1854.4,768.0 1862.7,770.0 1870.9,775.0 1879.1,768.0 1887.4,745.0 1895.6,742.0 1903.9,740.0 1912.1,712.0 1920.4,715.0 1928.6,705.0 1936.9,718.0 1945.1,706.0 1953.4,708.0 1961.6,700.0 1969.9,692.0 1978.1,680.0 1986.3,678.0 1994.6,700.0 2002.8,712.0 2011.1,690.0 2019.3,688.0 2027.6,692.0 2035.8,690.0 2044.1,680.0 2052.3,678.0 2060.6,670.0 2068.8,690.0 2077.1,692.0 2085.3,672.0 2093.6,676.0 2101.8,668.0 2110.0,650.0 2118.3,648.0 2126.5,680.0 2134.8,695.0 2143.0,694.0 2151.3,708.0 2159.5,690.0 2167.8,698.0 2176.0,702.0 2184.3,704.0 2192.5,706.0 2200.8,694.0 2209.0,690.0 2217.2,672.0 2225.5,694.0 2233.7,702.0 2242.0,700.0 2250.2,703.0 2258.5,694.0 2266.7,682.0 2275.0,680.0 2283.2,668.0 2291.5,665.0 2299.7,673.4 2308.0,677.0 2316.2,672.5 2324.5,680.8 2332.7,682.9 2340.9,674.3 2349.2,672.8 2357.4,680.2 2365.7,682.3 2373.9,688.3 2382.2,692.1 2390.4,693.3 2398.7,696.3 2406.9,692.7 2415.2,697.8 2423.4,693.6 2431.7,695.1 2439.9,693.3 2448.2,700.8 2456.4,695.7 2464.6,689.8 2472.9,698.7 2481.1,701.7 2489.4,715.1 2497.6,726.4 2505.9,728.5" fill="none" stroke="#f0a03c" stroke-width="4" stroke-linejoin="round" stroke-linecap="butt"/>
<circle cx="2332.7" cy="445.6" r="7.6" fill="#dedede"/><circle cx="2332.7" cy="445.6" r="3.6" fill="#fff"/>
<circle cx="2332.7" cy="682.9" r="7.6" fill="#f0a03c"/><circle cx="2332.7" cy="682.9" r="3.8" fill="#fff"/>
<line x1="2333" y1="861.1" x2="2333" y2="355" stroke="#b4b4b4" stroke-opacity="0.95" stroke-width="2" stroke-dasharray="8 4"/>
<text x="151.2" y="360.7" text-anchor="end" class="ys">1.5B</text>
<text x="2527" y="360.7" text-anchor="start" class="ys">140B</text>
<text x="151.2" y="444.7" text-anchor="end" class="ys">1B</text>
<text x="2527" y="444.7" text-anchor="start" class="ys">120B</text>
<text x="151.2" y="528.7" text-anchor="end" class="ys">500M</text>
<text x="2527" y="528.7" text-anchor="start" class="ys">100B</text>
<text x="151.2" y="612.7" text-anchor="end" class="ys">0</text>
<text x="2527" y="612.7" text-anchor="start" class="ys">80B</text>
<text x="151.2" y="696.7" text-anchor="end" class="ys">-500M</text>
<text x="2527" y="696.7" text-anchor="start" class="ys">60B</text>
<text x="151.2" y="782.7" text-anchor="end" class="ys">-1B</text>
<text x="2527" y="782.7" text-anchor="start" class="ys">40B</text>
<text x="151.2" y="866.7" text-anchor="end" class="ys">-1.5B</text>
<text x="2527" y="866.7" text-anchor="start" class="ys">20B</text>
<text x="172.1" y="897" text-anchor="middle" class="xs">2024/01/10</text>
<text x="328.8" y="897" text-anchor="middle" class="xs">2024/02/07</text>
<text x="485.5" y="897" text-anchor="middle" class="xs">2024/03/06</text>
<text x="642.2" y="897" text-anchor="middle" class="xs">2024/04/03</text>
<text x="798.9" y="897" text-anchor="middle" class="xs">2024/04/30</text>
<text x="955.5" y="897" text-anchor="middle" class="xs">2024/05/28</text>
<text x="1112.2" y="897" text-anchor="middle" class="xs">2024/06/25</text>
<text x="1268.9" y="897" text-anchor="middle" class="xs">2024/07/23</text>
<text x="1425.6" y="897" text-anchor="middle" class="xs">2024/08/19</text>
<text x="1582.3" y="897" text-anchor="middle" class="xs">2024/09/16</text>
<text x="1739.0" y="897" text-anchor="middle" class="xs">2024/10/11</text>
<text x="1895.6" y="897" text-anchor="middle" class="xs">2024/11/07</text>
<text x="2052.3" y="897" text-anchor="middle" class="xs">2024/12/05</text>
<text x="2209.0" y="897" text-anchor="middle" class="xs">2025/01/03</text>
<text x="2365.7" y="897" text-anchor="middle" class="xs">2025/02/03</text>
<text x="2504.9" y="897" text-anchor="middle" class="xs">2025/02/27</text>
</svg>
<svg class="chart" width="2676" height="1012" viewBox="0 0 2676 1012">
<rect x="174.8" y="913.0" width="2338.1" height="48.0" fill="#242c44" fill-opacity="0.75"/>
<polygon points="174.8,961.0 174.8,938.4 183.1,931.0 191.3,936.2 199.6,939.4 207.8,932.3 216.1,940.0 224.4,937.9 232.6,939.3 240.9,939.7 249.2,940.3 257.4,939.4 265.7,938.3 273.9,935.4 282.2,935.5 290.5,936.1 298.7,938.0 307.0,937.5 315.3,937.6 323.5,938.0 331.8,936.7 340.0,933.6 348.3,932.0 356.6,932.6 364.8,930.9 373.1,934.4 381.3,932.7 389.6,934.5 397.9,936.8 406.1,938.8 414.4,935.4 422.7,935.7 430.9,932.2 439.2,931.6 447.4,930.4 455.7,937.3 464.0,940.1 472.2,931.7 480.5,930.7 488.7,934.5 497.0,932.8 505.3,935.8 513.5,932.4 521.8,926.0 530.1,930.3 538.3,936.9 546.6,936.1 554.8,940.2 563.1,942.3 571.4,941.5 579.6,939.5 587.9,939.0 596.2,938.3 604.4,933.5 612.7,935.6 620.9,936.3 629.2,939.4 637.5,938.0 645.7,937.1 654.0,935.9 662.2,936.1 670.5,941.1 678.8,938.7 687.0,937.0 695.3,937.4 703.6,939.1 711.8,938.8 720.1,939.1 728.3,940.4 736.6,938.5 744.9,937.7 753.1,937.7 761.4,938.1 769.7,939.8 777.9,941.0 786.2,939.4 794.4,939.0 802.7,940.3 811.0,945.1 819.2,938.8 827.5,934.0 835.7,935.9 844.0,938.6 852.3,938.3 860.5,938.5 868.8,939.4 877.1,937.7 885.3,937.2 893.6,934.8 901.8,935.4 910.1,935.8 918.4,935.5 926.6,934.8 934.9,936.6 943.2,937.2 951.4,935.4 959.7,937.9 967.9,938.1 976.2,937.9 984.5,937.9 992.7,937.2 1001.0,927.8 1009.2,932.6 1017.5,935.8 1025.8,936.9 1034.0,939.2 1042.3,940.8 1050.6,937.2 1058.8,941.1 1067.1,940.6 1075.3,940.1 1083.6,940.2 1091.9,940.1 1100.1,939.6 1108.4,940.5 1116.6,938.1 1124.9,938.2 1133.2,938.3 1141.4,937.6 1149.7,936.9 1158.0,938.6 1166.2,938.6 1174.5,936.7 1182.7,934.9 1191.0,935.8 1199.3,936.7 1207.5,937.5 1215.8,934.8 1224.1,934.9 1232.3,933.4 1240.6,937.8 1248.8,938.0 1257.1,933.3 1265.4,932.6 1273.6,939.3 1281.9,937.9 1290.1,938.0 1298.4,937.8 1306.7,937.0 1314.9,938.6 1323.2,938.4 1331.5,937.8 1339.7,941.2 1348.0,940.4 1356.2,940.2 1364.5,937.9 1372.8,936.1 1381.0,939.4 1389.3,938.1 1397.6,938.0 1405.8,939.4 1414.1,938.3 1422.3,938.0 1430.6,937.7 1438.9,937.4 1447.1,938.0 1455.4,937.7 1463.6,935.4 1471.9,936.0 1480.2,939.9 1488.4,939.6 1496.7,939.2 1505.0,940.5 1513.2,941.8 1521.5,938.8 1529.7,940.9 1538.0,940.4 1546.3,938.1 1554.5,937.1 1562.8,938.9 1571.1,938.0 1579.3,935.3 1587.6,938.3 1595.8,936.2 1604.1,939.0 1612.4,936.6 1620.6,937.4 1628.9,938.4 1637.1,936.8 1645.4,937.2 1653.7,934.1 1661.9,932.6 1670.2,937.7 1678.5,941.2 1686.7,939.5 1695.0,939.0 1703.2,938.2 1711.5,935.6 1719.8,938.6 1728.0,938.9 1736.3,939.8 1744.5,935.4 1752.8,931.8 1761.1,934.0 1769.3,933.0 1777.6,932.8 1785.9,935.2 1794.1,935.0 1802.4,939.3 1810.6,936.2 1818.9,936.2 1827.2,933.7 1835.4,932.8 1843.7,928.1 1852.0,927.8 1860.2,938.1 1868.5,939.0 1876.7,944.9 1885.0,939.8 1893.3,931.0 1901.5,922.0 1909.8,935.0 1918.0,925.2 1926.3,928.7 1934.6,932.4 1942.8,943.2 1951.1,942.8 1959.4,935.4 1967.6,928.5 1975.9,929.0 1984.1,926.5 1992.4,932.6 2000.7,943.6 2008.9,939.8 2017.2,937.3 2025.5,934.6 2033.7,934.2 2042.0,930.4 2050.2,931.8 2058.5,929.3 2066.8,933.9 2075.0,932.7 2083.3,933.2 2091.5,935.8 2099.8,931.3 2108.1,933.3 2116.3,930.8 2124.6,932.6 2132.9,935.2 2141.1,946.4 2149.4,941.7 2157.6,941.1 2165.9,942.4 2174.2,932.8 2182.4,942.0 2190.7,943.5 2199.0,938.3 2207.2,941.3 2215.5,927.6 2223.7,926.7 2232.0,937.8 2240.3,945.2 2248.5,940.1 2256.8,941.8 2265.0,940.9 2273.3,929.4 2281.6,931.0 2289.8,925.6 2298.1,928.9 2306.4,935.5 2314.6,936.2 2322.9,932.3 2331.1,943.7 2339.4,938.2 2347.7,937.4 2355.9,931.4 2364.2,934.7 2372.4,941.2 2380.7,934.4 2389.0,937.6 2397.2,940.0 2405.5,936.4 2413.8,940.6 2422.0,939.0 2430.3,941.4 2438.5,940.3 2446.8,937.6 2455.1,939.1 2463.3,939.2 2471.6,942.8 2479.9,939.1 2488.1,944.8 2496.4,952.0 2504.6,947.4 2512.9,941.7 2512.9,961.0" fill="#22315b"/>
<polyline points="174.8,938.4 183.1,931.0 191.3,936.2 199.6,939.4 207.8,932.3 216.1,940.0 224.4,937.9 232.6,939.3 240.9,939.7 249.2,940.3 257.4,939.4 265.7,938.3 273.9,935.4 282.2,935.5 290.5,936.1 298.7,938.0 307.0,937.5 315.3,937.6 323.5,938.0 331.8,936.7 340.0,933.6 348.3,932.0 356.6,932.6 364.8,930.9 373.1,934.4 381.3,932.7 389.6,934.5 397.9,936.8 406.1,938.8 414.4,935.4 422.7,935.7 430.9,932.2 439.2,931.6 447.4,930.4 455.7,937.3 464.0,940.1 472.2,931.7 480.5,930.7 488.7,934.5 497.0,932.8 505.3,935.8 513.5,932.4 521.8,926.0 530.1,930.3 538.3,936.9 546.6,936.1 554.8,940.2 563.1,942.3 571.4,941.5 579.6,939.5 587.9,939.0 596.2,938.3 604.4,933.5 612.7,935.6 620.9,936.3 629.2,939.4 637.5,938.0 645.7,937.1 654.0,935.9 662.2,936.1 670.5,941.1 678.8,938.7 687.0,937.0 695.3,937.4 703.6,939.1 711.8,938.8 720.1,939.1 728.3,940.4 736.6,938.5 744.9,937.7 753.1,937.7 761.4,938.1 769.7,939.8 777.9,941.0 786.2,939.4 794.4,939.0 802.7,940.3 811.0,945.1 819.2,938.8 827.5,934.0 835.7,935.9 844.0,938.6 852.3,938.3 860.5,938.5 868.8,939.4 877.1,937.7 885.3,937.2 893.6,934.8 901.8,935.4 910.1,935.8 918.4,935.5 926.6,934.8 934.9,936.6 943.2,937.2 951.4,935.4 959.7,937.9 967.9,938.1 976.2,937.9 984.5,937.9 992.7,937.2 1001.0,927.8 1009.2,932.6 1017.5,935.8 1025.8,936.9 1034.0,939.2 1042.3,940.8 1050.6,937.2 1058.8,941.1 1067.1,940.6 1075.3,940.1 1083.6,940.2 1091.9,940.1 1100.1,939.6 1108.4,940.5 1116.6,938.1 1124.9,938.2 1133.2,938.3 1141.4,937.6 1149.7,936.9 1158.0,938.6 1166.2,938.6 1174.5,936.7 1182.7,934.9 1191.0,935.8 1199.3,936.7 1207.5,937.5 1215.8,934.8 1224.1,934.9 1232.3,933.4 1240.6,937.8 1248.8,938.0 1257.1,933.3 1265.4,932.6 1273.6,939.3 1281.9,937.9 1290.1,938.0 1298.4,937.8 1306.7,937.0 1314.9,938.6 1323.2,938.4 1331.5,937.8 1339.7,941.2 1348.0,940.4 1356.2,940.2 1364.5,937.9 1372.8,936.1 1381.0,939.4 1389.3,938.1 1397.6,938.0 1405.8,939.4 1414.1,938.3 1422.3,938.0 1430.6,937.7 1438.9,937.4 1447.1,938.0 1455.4,937.7 1463.6,935.4 1471.9,936.0 1480.2,939.9 1488.4,939.6 1496.7,939.2 1505.0,940.5 1513.2,941.8 1521.5,938.8 1529.7,940.9 1538.0,940.4 1546.3,938.1 1554.5,937.1 1562.8,938.9 1571.1,938.0 1579.3,935.3 1587.6,938.3 1595.8,936.2 1604.1,939.0 1612.4,936.6 1620.6,937.4 1628.9,938.4 1637.1,936.8 1645.4,937.2 1653.7,934.1 1661.9,932.6 1670.2,937.7 1678.5,941.2 1686.7,939.5 1695.0,939.0 1703.2,938.2 1711.5,935.6 1719.8,938.6 1728.0,938.9 1736.3,939.8 1744.5,935.4 1752.8,931.8 1761.1,934.0 1769.3,933.0 1777.6,932.8 1785.9,935.2 1794.1,935.0 1802.4,939.3 1810.6,936.2 1818.9,936.2 1827.2,933.7 1835.4,932.8 1843.7,928.1 1852.0,927.8 1860.2,938.1 1868.5,939.0 1876.7,944.9 1885.0,939.8 1893.3,931.0 1901.5,922.0 1909.8,935.0 1918.0,925.2 1926.3,928.7 1934.6,932.4 1942.8,943.2 1951.1,942.8 1959.4,935.4 1967.6,928.5 1975.9,929.0 1984.1,926.5 1992.4,932.6 2000.7,943.6 2008.9,939.8 2017.2,937.3 2025.5,934.6 2033.7,934.2 2042.0,930.4 2050.2,931.8 2058.5,929.3 2066.8,933.9 2075.0,932.7 2083.3,933.2 2091.5,935.8 2099.8,931.3 2108.1,933.3 2116.3,930.8 2124.6,932.6 2132.9,935.2 2141.1,946.4 2149.4,941.7 2157.6,941.1 2165.9,942.4 2174.2,932.8 2182.4,942.0 2190.7,943.5 2199.0,938.3 2207.2,941.3 2215.5,927.6 2223.7,926.7 2232.0,937.8 2240.3,945.2 2248.5,940.1 2256.8,941.8 2265.0,940.9 2273.3,929.4 2281.6,931.0 2289.8,925.6 2298.1,928.9 2306.4,935.5 2314.6,936.2 2322.9,932.3 2331.1,943.7 2339.4,938.2 2347.7,937.4 2355.9,931.4 2364.2,934.7 2372.4,941.2 2380.7,934.4 2389.0,937.6 2397.2,940.0 2405.5,936.4 2413.8,940.6 2422.0,939.0 2430.3,941.4 2438.5,940.3 2446.8,937.6 2455.1,939.1 2463.3,939.2 2471.6,942.8 2479.9,939.1 2488.1,944.8 2496.4,952.0 2504.6,947.4 2512.9,941.7" fill="none" stroke="#3266d2" stroke-width="1.4" stroke-linejoin="round"/>
<rect x="172.8" y="913.0" width="4" height="48.0" fill="#4a4a4a"/>
<rect x="169.8" y="921" width="10" height="32" rx="3" fill="#2b2b2b" stroke="#4a4a4a" stroke-width="3"/>
<rect x="2510.9" y="913.0" width="4" height="48.0" fill="#4a4a4a"/>
<rect x="2507.9" y="921" width="10" height="32" rx="3" fill="#2b2b2b" stroke="#4a4a4a" stroke-width="3"/>
</svg>
<span class="t" id="t0" style="left:28.6px;top:30.70px;font:normal 700 28.8px/1 'Liberation Sans', sans-serif;color:#dcdcdc;transform:scaleX(0.9315)">Total Bitcoin Spot ETF Net Inflow</span>
<span class="t" id="t1" style="left:507.7px;top:33.10px;font:normal 400 24.6px/1 'Liberation Sans', sans-serif;color:#ffffff;transform:scaleX(0.8214)">EST</span>
<span class="t" id="t2" style="left:2161px;top:121.90px;font:normal 400 28.8px/1 'Liberation Sans', sans-serif;color:#e9562d;transform:scaleX(0.9951)">Daily</span>
<span class="t" id="t3" style="left:2258px;top:121.90px;font:normal 400 28.8px/1 'Liberation Sans', sans-serif;color:#a9a9a9;transform:scaleX(1.0012)">Weekly</span>
<span class="t" id="t4" style="left:2466.4px;top:121.90px;font:normal 700 28.8px/1 'Liberation Sans', sans-serif;color:#b4b4b4;transform:scaleX(0.9467)">Date Range</span>
<span class="t" id="t5" style="left:77px;top:197.70px;font:normal 400 28.6px/1 'Liberation Sans', sans-serif;color:#a6a6a6;transform:scaleX(1.0519)">Daily Total Net Inflow</span>
<span class="t" id="t6" style="left:367.4px;top:195.60px;font:normal 700 32.4px/1 'Liberation Sans', sans-serif;color:#e6e6e6;transform:scaleX(1.0629)">-$275.83M</span>
<span class="t" id="t7" style="left:591.5px;top:197.70px;font:normal 400 28.6px/1 'Liberation Sans', sans-serif;color:#a6a6a6;transform:scaleX(1.0150)">Total Net Assets</span>
<span class="t" id="t8" style="left:810.4px;top:195.60px;font:normal 700 32.4px/1 'Liberation Sans', sans-serif;color:#e6e6e6;transform:scaleX(1.0068)">$94.30B</span>
<span class="t" id="t9" style="left:992.7px;top:197.70px;font:normal 400 28.6px/1 'Liberation Sans', sans-serif;color:#a6a6a6;transform:scaleX(0.9610)">BTC Price</span>
<span class="t" id="t10" style="left:1129.4px;top:195.60px;font:normal 700 32.4px/1 'Liberation Sans', sans-serif;color:#e6e6e6;transform:scaleX(1.0338)">$83,524.98</span>
<div class="tt"><span style="left:34px;top:41.2px">2025/01/28</span><i style="top:89px;background:#6ad06a"></i><span style="left:58px;top:83.5px">Daily Total Net Inflow: $18.44M</span><i style="top:131px;background:#e8e8e8"></i><span style="left:58px;top:125.4px">Total Net Assets: $118.62B</span><i style="top:172.6px;background:#f0a03c"></i><span style="left:58px;top:167.2px">BTC Price: $101,264.48</span></div>
</div></body></html>
